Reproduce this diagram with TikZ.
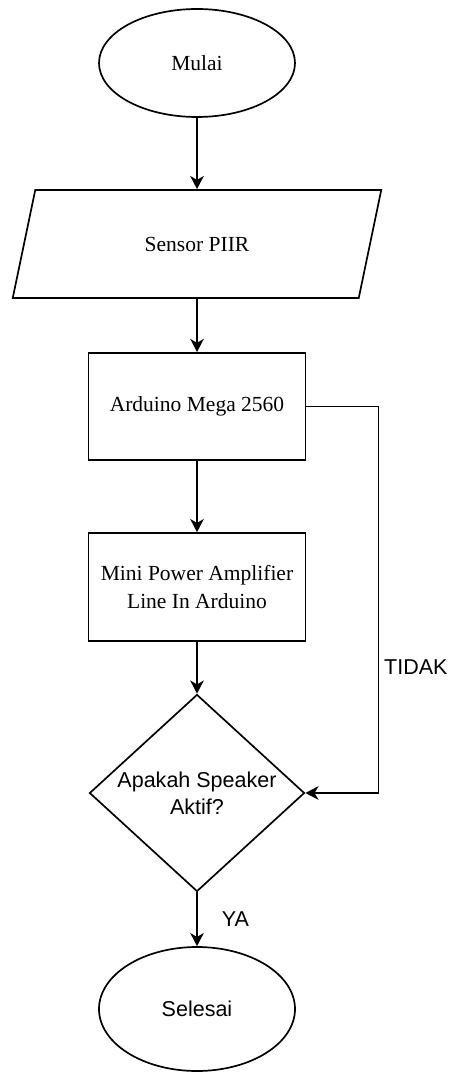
\documentclass[tikz,border=0pt]{standalone}
\usepackage{fontspec}
\setmainfont{Liberation Serif}
\newfontfamily\arialfont{Liberation Sans}
\usetikzlibrary{shapes.geometric,arrows.meta}

\begin{document}
\begin{tikzpicture}[line width=1.2pt,
    every node/.style={font=\fontsize{15.3}{19.4}\selectfont},
    terminal/.style={draw,ellipse,inner sep=0pt,minimum width=4.9cm},
    inout/.style={draw,trapezium,trapezium left angle=71.6,trapezium right angle=108.4,
      trapezium stretches=true,minimum width=9.25cm,minimum height=2.7cm},
    process/.style={draw,rectangle,align=center,minimum width=5.425cm,minimum height=2.7cm},
    decision/.style={draw,diamond,align=center,inner sep=0pt,aspect=1.09,
      minimum width=5.375cm,minimum height=4.925cm},
    flow/.style={-{Stealth[length=0.33cm,width=0.34cm,inset=0.1cm]}}]
  \useasboundingbox (0,0) rectangle (11.2,-26.8);
  \node[terminal,minimum height=2.7cm] (mulai) at (4.925,-1.575) {Mulai};
  \node[inout] (sensor) at (4.925,-6.1) {Sensor PIIR};
  \node[process,minimum height=2.675cm] (arduino) at (4.925,-10.16) {Arduino Mega 2560};
  \node[process] (amp) at (4.925,-14.675) {Mini Power Amplifier\\Line In Arduino};
  \node[decision] (cek) at (4.925,-19.825) {\arialfont Apakah Speaker\\\arialfont Aktif?};
  \node[terminal,minimum height=3.1cm] (selesai) at (4.925,-25.225) {\arialfont Selesai};
  \draw[flow] (mulai.south) -- (sensor.north);
  \draw[flow] (sensor.south) -- (arduino.north);
  \draw[flow] (arduino.south) -- (amp.north);
  \draw[flow] (amp.south) -- (cek.north);
  \draw[flow] (cek.south) -- node[anchor=west,inner sep=0pt,xshift=0.6cm] {\arialfont YA} (selesai.north);
  \draw[flow] (arduino.east) -- ++(1.8,0) |- node[pos=0.337,anchor=west,inner sep=0pt,xshift=0.125cm] {\arialfont TIDAK} (cek.east);
\end{tikzpicture}
\end{document}
